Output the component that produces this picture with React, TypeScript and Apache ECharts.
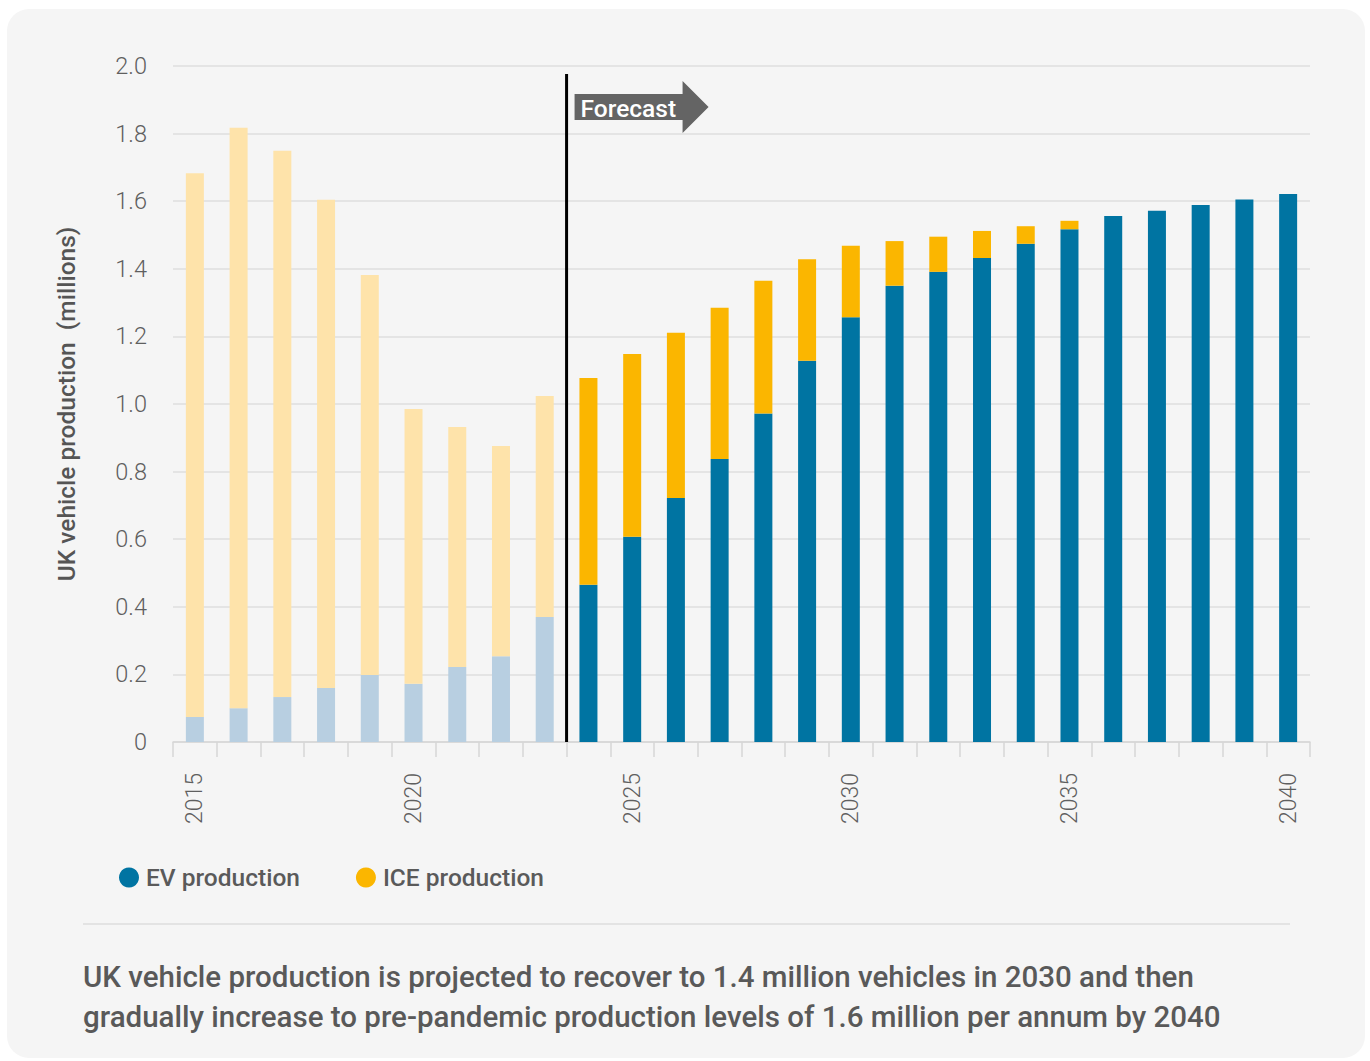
import React, { useEffect, useRef } from "react";
import * as echarts from "echarts";

const years = [
  "2015", "2016", "2017", "2018", "2019", "2020", "2021", "2022", "2023",
  "2024", "2025", "2026", "2027", "2028", "2029", "2030", "2031", "2032",
  "2033", "2034", "2035", "2036", "2037", "2038", "2039", "2040",
];

const evProduction = [
  0.074, 0.1, 0.133, 0.16, 0.198, 0.172, 0.222, 0.254, 0.37,
  0.465, 0.607, 0.722, 0.837, 0.972, 1.128, 1.257, 1.35, 1.391,
  1.432, 1.474, 1.517, 1.556, 1.572, 1.589, 1.605, 1.621,
];

const iceProduction = [
  1.609, 1.717, 1.616, 1.444, 1.184, 0.813, 0.71, 0.622, 0.654,
  0.612, 0.541, 0.489, 0.448, 0.393, 0.3, 0.211, 0.132, 0.104,
  0.08, 0.052, 0.025, 0, 0, 0, 0, 0,
];

const forecastStartYear = "2024";
const forecastLabel = "Forecast";
const legendNames = ["EV production", "ICE production"];
const yAxisTitle = "UK vehicle production  (millions)";
const captionLines = [
  "UK vehicle production is projected to recover to 1.4 million vehicles in 2030 and then",
  "gradually increase to pre-pandemic production levels of 1.6 million per annum by 2040",
];

const EV_COLOR = "#0074a2";
const EV_HIST = "#b8cfe1";
const ICE_COLOR = "#fbb600";
const ICE_HIST = "#fee3aa";
const FONT = "Roboto, 'DejaVu Sans', sans-serif";

export default function App() {
  const ref = useRef<HTMLDivElement>(null);

  useEffect(() => {
    if (!ref.current) return;
    const chart = echarts.init(ref.current, null, { renderer: "svg" });
    const fIdx = years.indexOf(forecastStartYear);

    chart.setOption({
      animation: false,
      backgroundColor: "transparent",
      textStyle: { fontFamily: FONT },
      grid: { left: 173, right: 60, top: 66, bottom: 319, containLabel: false },
      legend: {
        data: legendNames,
        left: 114,
        top: 860,
        icon: "circle",
        itemWidth: 20,
        itemHeight: 20,
        itemGap: 56,
        textStyle: { fontSize: 24.5, color: "#5a5a5a", fontWeight: 500, fontFamily: FONT, padding: [0, 0, 0, 2] },
      },
      xAxis: {
        type: "category",
        data: years,
        axisLine: { lineStyle: { color: "#d6d6d6", width: 1.5 } },
        axisTick: { show: true, interval: 0, length: 15, lineStyle: { color: "#d6d6d6", width: 1.5 } },
        axisLabel: {
          interval: 4,
          rotate: 90,
          margin: 31,
          fontSize: 23,
          fontWeight: 300,
          color: "#5f5f5f",
          fontFamily: FONT,
        },
      },
      yAxis: {
        type: "value",
        min: 0,
        max: 2,
        interval: 0.2,
        name: yAxisTitle,
        nameLocation: "middle",
        nameGap: 94,
        nameTextStyle: { fontSize: 24.5, fontWeight: 500, color: "#555555", fontFamily: FONT },
        axisLine: { show: false },
        axisTick: { show: false },
        splitLine: { lineStyle: { color: "#dedede", width: 1.5 } },
        axisLabel: {
          margin: 26,
          fontSize: 23.5,
          fontWeight: 300,
          color: "#5f5f5f",
          fontFamily: FONT,
          formatter: (v: number) => (v === 0 ? "0" : v.toFixed(1)),
        },
      },
      series: [
        {
          name: legendNames[0],
          type: "bar",
          stack: "total",
          barWidth: 18,
          itemStyle: { color: EV_COLOR },
          data: evProduction.map((v, i) => ({
            value: v,
            itemStyle: { color: i < fIdx ? EV_HIST : EV_COLOR },
          })),
        },
        {
          name: legendNames[1],
          type: "bar",
          stack: "total",
          barWidth: 18,
          itemStyle: { color: ICE_COLOR },
          data: iceProduction.map((v, i) => ({
            value: v,
            itemStyle: { color: i < fIdx ? ICE_HIST : ICE_COLOR },
          })),
        },
      ],
    });

    const xa = chart.convertToPixel({ xAxisIndex: 0 }, years[fIdx - 1]) as number;
    const xb = chart.convertToPixel({ xAxisIndex: 0 }, years[fIdx]) as number;
    const xm = (xa + xb) / 2;
    const yTop = chart.convertToPixel({ yAxisIndex: 0 }, 2) as number;
    const yZero = chart.convertToPixel({ yAxisIndex: 0 }, 0) as number;

    const ay = yTop + 41;
    chart.setOption({
      graphic: [
        {
          type: "line",
          shape: { x1: xm, y1: yTop + 8, x2: xm, y2: yZero },
          style: { stroke: "#000000", lineWidth: 3 },
          z: 10,
        },
        {
          type: "polygon",
          shape: {
            points: [
              [xm + 8, ay - 13],
              [xm + 116, ay - 13],
              [xm + 116, ay - 26],
              [xm + 142, ay],
              [xm + 116, ay + 26],
              [xm + 116, ay + 13],
              [xm + 8, ay + 13],
            ],
          },
          style: { fill: "#646464" },
          z: 10,
        },
        {
          type: "text",
          x: xm + 14,
          y: ay + 1,
          style: {
            text: forecastLabel,
            fill: "#ffffff",
            fontSize: 24.5,
            fontWeight: 500,
            fontFamily: FONT,
            verticalAlign: "middle",
          },
          z: 11,
        },
        {
          type: "line",
          shape: { x1: 83, y1: 924, x2: 1290, y2: 924 },
          style: { stroke: "#dcdcdc", lineWidth: 1.5 },
        },
        {
          type: "text",
          x: 83,
          y: 977,
          style: {
            text: captionLines[0],
            fill: "#595959",
            fontSize: 29.5,
            fontWeight: 500,
            fontFamily: FONT,
            verticalAlign: "middle",
          },
        },
        {
          type: "text",
          x: 83,
          y: 1017,
          style: {
            text: captionLines[1],
            fill: "#595959",
            fontSize: 29.5,
            fontWeight: 500,
            fontFamily: FONT,
            verticalAlign: "middle",
          },
        },
      ],
    });

    return () => chart.dispose();
  }, []);

  return (
    <div style={{ position: "fixed", left: 0, top: 0, width: 1370, height: 1061, background: "#ffffff", overflow: "hidden" }}>
      <div
        style={{
          position: "absolute",
          left: 7,
          top: 9,
          width: 1358,
          height: 1049,
          borderRadius: 22,
          background: "#f5f5f5",
        }}
      />
      <div ref={ref} style={{ position: "absolute", left: 0, top: 0, width: 1370, height: 1061 }} />
    </div>
  );
}
